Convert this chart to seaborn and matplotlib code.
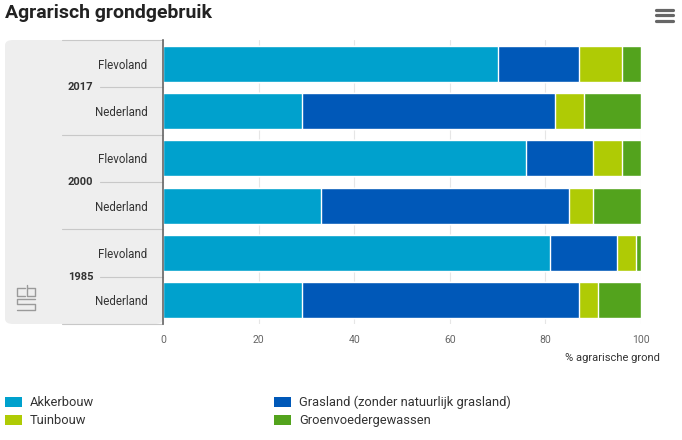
import pandas as pd
import seaborn as sns
import matplotlib.pyplot as plt
from matplotlib import transforms
from matplotlib.patches import FancyBboxPatch, Patch
from matplotlib.lines import Line2D

# data (percent of agricultural land)
years = ["2017", "2000", "1985"]
regions = ["Flevoland", "Nederland"]
series = ["Akkerbouw", "Grasland (zonder natuurlijk grasland)", "Tuinbouw", "Groenvoedergewassen"]
akkerbouw = [70, 29, 76, 33, 81, 29]
grasland = [17, 53, 14, 52, 14, 58]
tuinbouw = [9, 6, 6, 5, 4, 4]
groenvoeder = [4, 12, 4, 10, 1, 9]
colors = ["#00a1cd", "#0058b8", "#afcb05", "#53a31d"]

W, H = 682, 440


def fx(px):
    return px / W


def fy(py):
    return 1 - py / H


sns.set_style("white")
plt.rcParams["font.family"] = ["Roboto", "DejaVu Sans"]

labels = [f"{y} {r}" for y in years for r in regions]
df = pd.DataFrame({"label": labels, series[0]: akkerbouw, series[1]: grasland,
                   series[2]: tuinbouw, series[3]: groenvoeder})
cum = df[series].cumsum(axis=1)

fig = plt.figure(figsize=(W / 100, H / 100), dpi=100)

# grey panel behind the category labels
panel = FancyBboxPatch((fx(5), fy(324)), fx(163) - fx(5), (324 - 40) / H,
                       boxstyle="round,pad=0,rounding_size=0.012",
                       transform=fig.transFigure, fc="#eeeeee", ec="none", zorder=-1)
fig.patches.append(panel)

ax = fig.add_axes([fx(163), fy(324), (641 - 163) / W, (324 - 40) / H])

# stacked bars: draw cumulative totals from back to front
for name, col in reversed(list(zip(series, colors))):
    sns.barplot(x=cum[name], y=df["label"], orient="h", color=col, width=0.76,
                edgecolor="white", linewidth=1, saturation=1, ax=ax)

ax.set_xlim(0, 100)
ax.set_ylim(5.5, -0.5)
ax.set_xticks(range(0, 101, 20))
ax.set_yticks(range(len(labels)))
ax.set_yticklabels(regions * len(years))
ax.set_xlabel("")
ax.set_ylabel("")
ax.tick_params(axis="y", length=0, pad=11, labelsize=8.3, labelcolor="#333333")
ax.tick_params(axis="x", length=0, pad=8, labelsize=7.5, labelcolor="#666666")
for s in ["top", "right", "bottom"]:
    ax.spines[s].set_visible(False)
ax.spines["left"].set_color("#666666")
ax.spines["left"].set_linewidth(1.2)
ax.xaxis.grid(True, color="#e6e6e6", linewidth=0.8)
ax.set_axisbelow(True)

# year group labels and separators
trans = transforms.blended_transform_factory(ax.transAxes, ax.transData)
for i, yr in enumerate(years):
    yc = 2 * i + 0.5
    ax.plot([-0.132, 0], [yc, yc], transform=trans, color="#c8c8c8", lw=0.8, clip_on=False)
    ax.text(-0.146, yc, yr, transform=trans, ha="right", va="center",
            fontsize=8, fontweight="bold", color="#333333")
    ax.plot([-0.211, 0], [2 * i - 0.5] * 2, transform=trans, color="#c8c8c8", lw=0.8, clip_on=False)
ax.plot([-0.211, 0], [5.5, 5.5], transform=trans, color="#c8c8c8", lw=0.8, clip_on=False)

fig.text(fx(660), fy(358), "% agrarische grond", ha="right", va="center",
         fontsize=8, color="#333333")

# title and menu icon
fig.text(fx(5), fy(13), "Agrarisch grondgebruik", ha="left", va="center",
         fontsize=14, fontweight="semibold", color="#222222")
for yy in (10, 15, 21):
    fig.add_artist(Line2D([fx(656), fx(673)], [fy(yy), fy(yy)], color="#666666", lw=2.3))

# rough cbs logo
logo = [
    [(25, 288), (17, 288), (17, 296), (25, 296)],
    [(27, 285), (27, 296), (35, 296), (35, 288), (27, 288)],
    [(35, 299), (17, 299), (17, 304), (35, 304), (35, 310), (17, 310)],
]
for pts in logo:
    fig.add_artist(Line2D([fx(p[0]) for p in pts], [fy(p[1]) for p in pts],
                          color="#9a9a9a", lw=1))

# legend
order = [0, 2, 1, 3]
handles = [Patch(facecolor=colors[k], edgecolor="none", label=series[k]) for k in order]
fig.legend(handles=handles, loc="upper left", bbox_to_anchor=(fx(5), fy(396)),
           ncol=2, frameon=False, fontsize=9.3, handlelength=1.32, handleheight=0.78,
           handletextpad=0.62, columnspacing=13.9, labelspacing=0.38,
           borderpad=0, borderaxespad=0, labelcolor="#333333")

fig.savefig("out.png", dpi=100)
